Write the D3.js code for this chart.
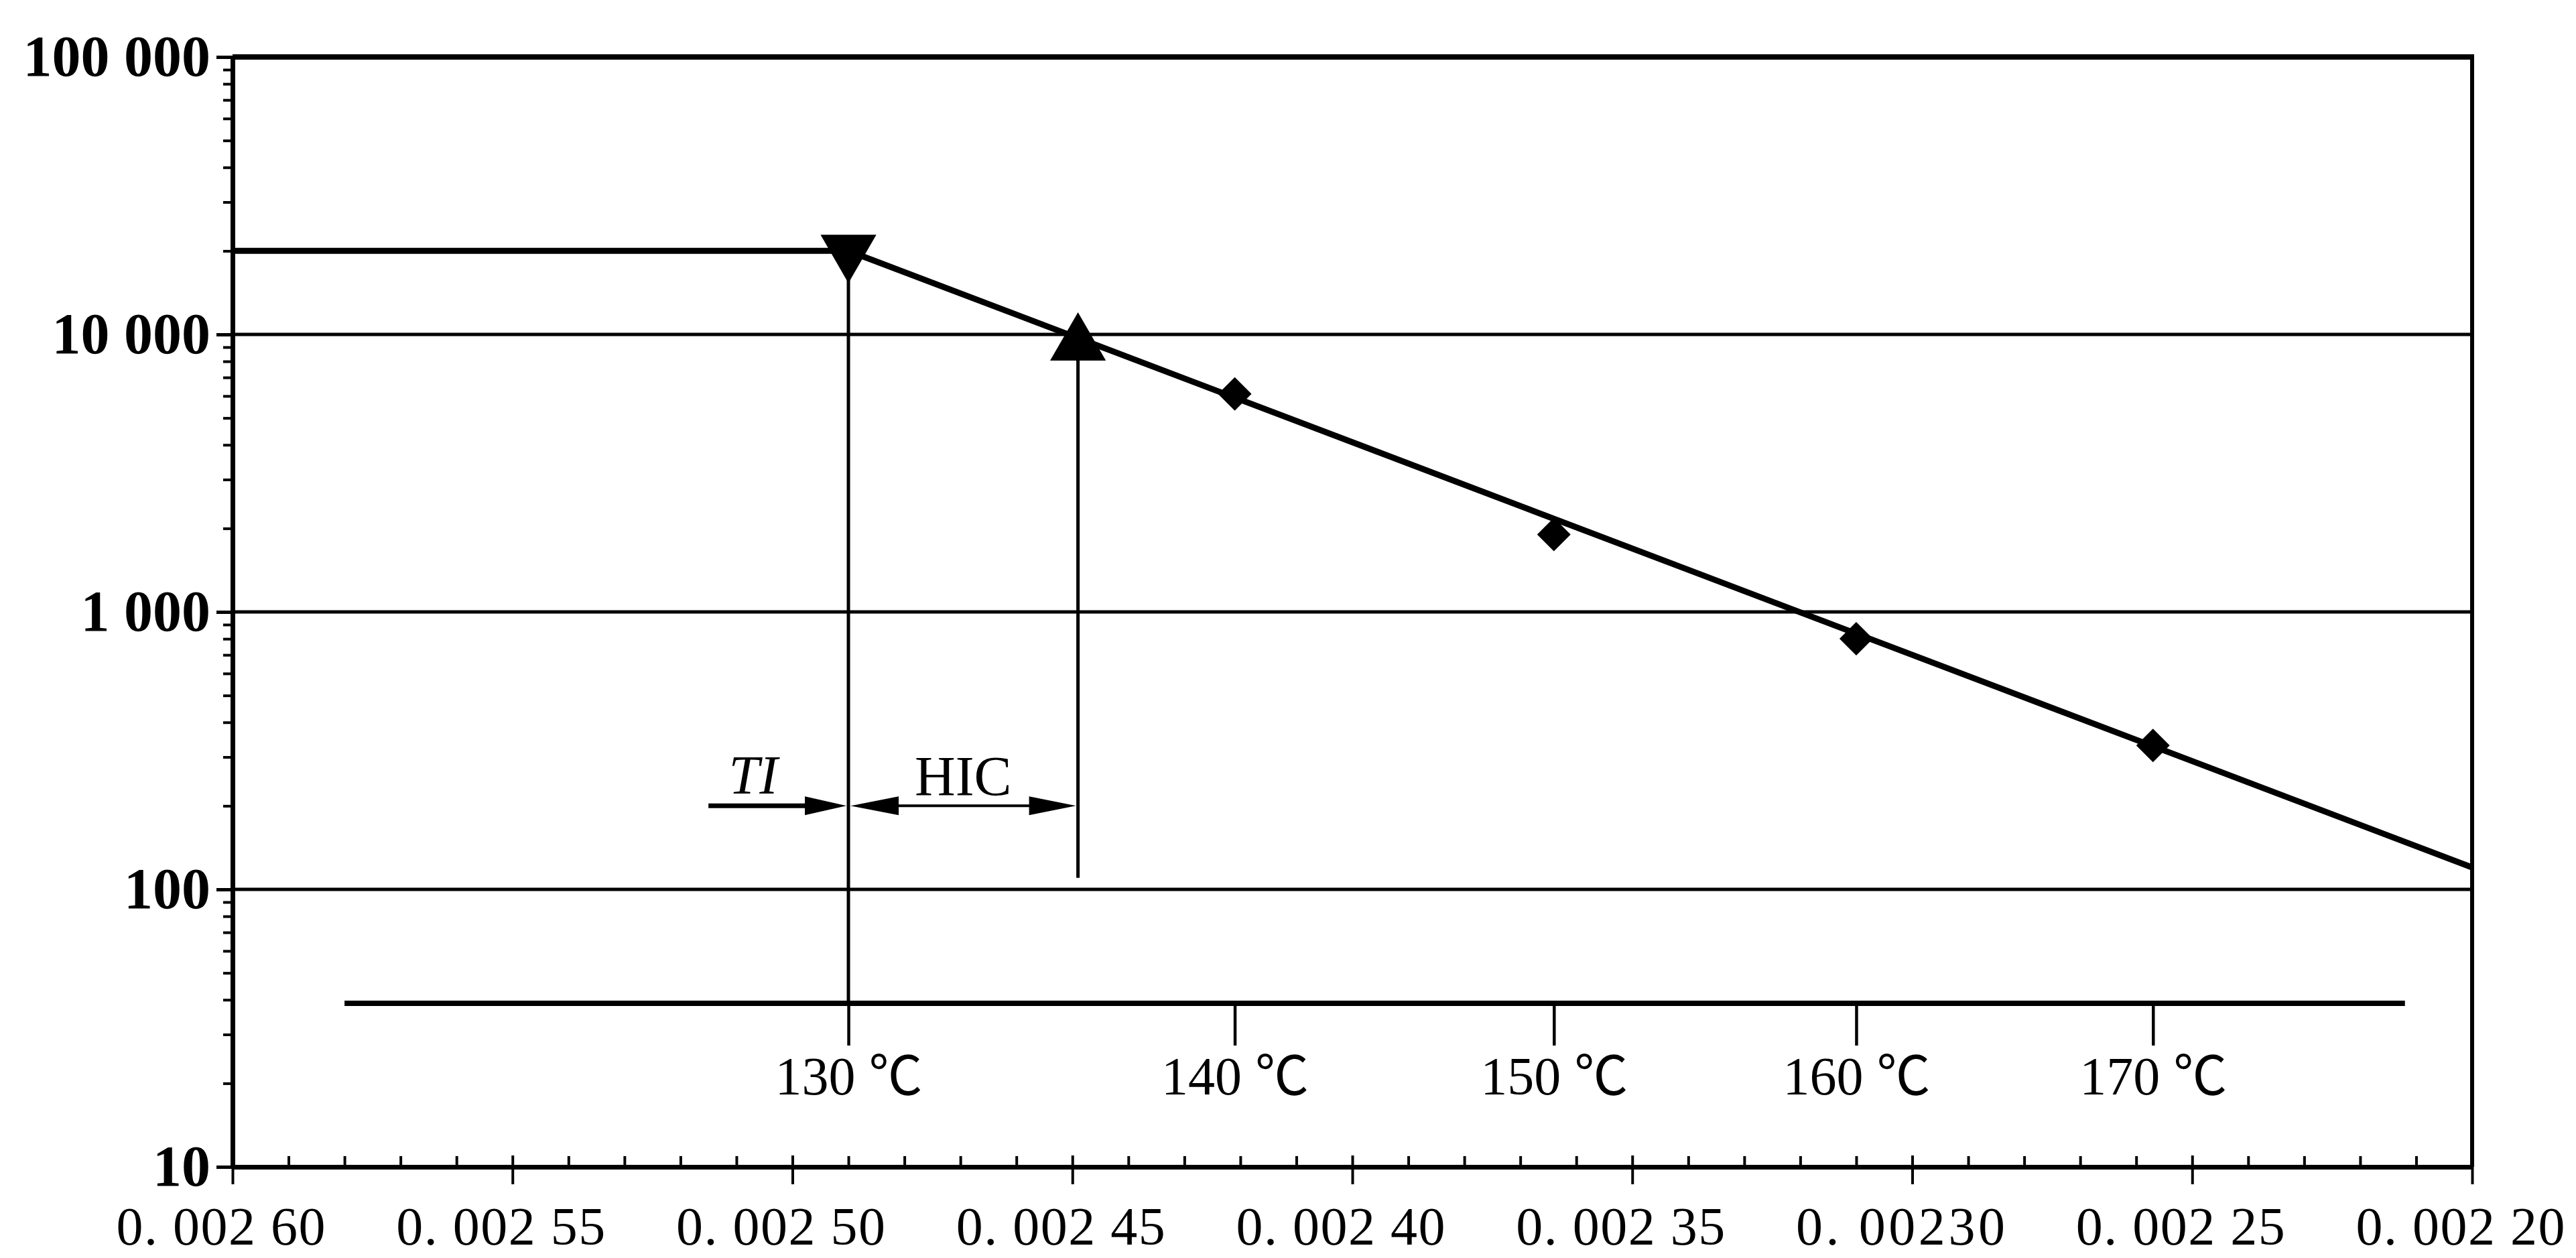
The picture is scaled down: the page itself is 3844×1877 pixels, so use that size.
<!DOCTYPE html>
<html>
<head>
<meta charset="utf-8">
<script src="https://cdn.jsdelivr.net/npm/d3@7"></script>
<style>
  html, body { margin: 0; padding: 0; background: #fff; }
  svg { display: block; }
</style>
</head>
<body>
<script>
// values
// reciprocal temperature axis (1/K)
const xTicks = [0.0026, 0.00255, 0.0025, 0.00245, 0.0024, 0.00235, 0.0023, 0.00225, 0.0022];
const xTickLabels = ['0. 002 60', '0. 002 55', '0. 002 50', '0. 002 45', '0. 002 40', '0. 002 35', '0. 00230', '0. 002 25', '0. 002 20'];

// time axis (hours, log)
const yTicks = [10, 100, 1000, 10000, 100000];
const yTickLabels = ['10', '100', '1 000', '10 000', '100 000'];

// temperature scale drawn inside the plot
const tempLabels = ['130 ℃', '140 ℃', '150 ℃', '160 ℃', '170 ℃'];
const tempRecip = [0.00249, 0.002421, 0.002364, 0.00231, 0.002257];

// ageing test points
const testRecip = [0.002421, 0.002364, 0.00231, 0.002257];
const testHours = [6100, 1900, 800, 330];

// TI (20 000 h) and HIC (half of it) points, and the fitted line
const tiPoint = [0.00249, 20000];
const hicPoint = [0.002449, 9200];
const fitRecip = [0.00249, 0.0022];
const fitHours = [20000, 120];

// set the dimensions of the SVG canvas
const width = 3844;
const height = 1877;
const plotLeft = 347;
const plotRight = 3689;
const plotTop = 85;
const plotBottom = 1741;
const tempAxisY = 1497;
const serif = '"Liberation Serif", "Times New Roman", "Noto Sans CJK SC", serif';

const svg = d3.select('body')
  .append('svg')
  .attr('width', width)
  .attr('height', height);

svg.append('rect')
  .attr('width', width)
  .attr('height', height)
  .attr('fill', '#fff');

// scales
const x = d3.scaleLinear()
  .domain([xTicks[0], xTicks[xTicks.length - 1]])
  .range([plotLeft, plotRight]);

const y = d3.scaleLog()
  .domain([yTicks[0], yTicks[yTicks.length - 1]])
  .range([plotBottom, plotTop]);

// horizontal grid lines
svg.selectAll('line.grid')
  .data(yTicks.slice(1, -1))
  .enter()
  .append('line')
  .attr('class', 'grid')
  .attr('x1', plotLeft)
  .attr('x2', plotRight)
  .attr('y1', d => y(d))
  .attr('y2', d => y(d))
  .attr('stroke', '#000')
  .attr('stroke-width', 5);

// top and right border
svg.append('line')
  .attr('x1', plotLeft).attr('x2', plotRight + 3)
  .attr('y1', y(yTicks[yTicks.length - 1])).attr('y2', y(yTicks[yTicks.length - 1]))
  .attr('stroke', '#000').attr('stroke-width', 8);

svg.append('line')
  .attr('x1', plotRight).attr('x2', plotRight)
  .attr('y1', plotTop - 4).attr('y2', plotBottom)
  .attr('stroke', '#000').attr('stroke-width', 6);

// y axis: minor ticks, then labelled decades
const yMinor = [];
yTicks.slice(0, -1).forEach(d => {
  for (let k = 2; k < 10; k++) yMinor.push(d * k);
});

svg.append('g')
  .attr('transform', `translate(${plotLeft},0)`)
  .call(d3.axisLeft(y).tickValues(yMinor).tickSize(14).tickFormat(''))
  .call(g => g.select('.domain').remove())
  .call(g => g.selectAll('line').attr('stroke-width', 4));

svg.append('g')
  .attr('transform', `translate(${plotLeft},0)`)
  .call(d3.axisLeft(y)
    .tickValues(yTicks)
    .tickSize(24)
    .tickSizeOuter(0)
    .tickPadding(9)
    .tickFormat((d, i) => yTickLabels[i]))
  .call(g => g.select('.domain').attr('stroke-width', 7))
  .call(g => g.selectAll('line').attr('stroke-width', 5))
  .call(g => g.selectAll('text')
    .attr('font-family', serif)
    .attr('font-weight', 'bold')
    .attr('font-size', 86)
    .attr('fill', '#000'));

// x axis: minor ticks inward, major ticks both sides
const xMinor = [];
for (let i = 0; i < xTicks.length - 1; i++) {
  const step = (xTicks[i + 1] - xTicks[i]) / 5;
  for (let k = 1; k < 5; k++) xMinor.push(xTicks[i] + step * k);
}

svg.append('g')
  .attr('transform', `translate(0,${plotBottom})`)
  .call(d3.axisBottom(x).tickValues(xMinor).tickSize(-16).tickFormat(''))
  .call(g => g.select('.domain').remove())
  .call(g => g.selectAll('line').attr('stroke-width', 4));

svg.append('g')
  .attr('transform', `translate(0,${plotBottom})`)
  .call(d3.axisBottom(x).tickValues(xTicks).tickSize(-17).tickFormat(''))
  .call(g => g.select('.domain').remove())
  .call(g => g.selectAll('line').attr('stroke-width', 4));

svg.append('g')
  .attr('transform', `translate(0,${plotBottom})`)
  .call(d3.axisBottom(x)
    .tickValues(xTicks)
    .tickSize(26)
    .tickSizeOuter(0)
    .tickPadding(33)
    .tickFormat((d, i) => xTickLabels[i]))
  .call(g => g.select('.domain').attr('stroke-width', 7))
  .call(g => g.selectAll('line').attr('stroke-width', 4))
  .call(g => g.selectAll('text')
    .attr('font-family', serif)
    .attr('font-size', 80)
    .attr('dx', -18)
    .attr('textLength', 312)
    .attr('lengthAdjust', 'spacing')
    .attr('fill', '#000'));

// temperature scale
svg.append('line')
  .attr('x1', x(0.00258)).attr('x2', x(0.002212))
  .attr('y1', tempAxisY).attr('y2', tempAxisY)
  .attr('stroke', '#000').attr('stroke-width', 8);

svg.append('g')
  .attr('transform', `translate(0,${tempAxisY})`)
  .call(d3.axisBottom(x)
    .tickValues(tempRecip)
    .tickSize(63)
    .tickPadding(16)
    .tickFormat((d, i) => tempLabels[i]))
  .call(g => g.select('.domain').remove())
  .call(g => g.selectAll('line').attr('stroke-width', 4.5))
  .call(g => g.selectAll('text')
    .attr('font-family', serif)
    .attr('font-size', 80)
    .attr('fill', '#000'));

// drop lines from TI and HIC points
svg.append('line')
  .attr('x1', x(tiPoint[0])).attr('x2', x(tiPoint[0]))
  .attr('y1', y(tiPoint[1])).attr('y2', tempAxisY)
  .attr('stroke', '#000').attr('stroke-width', 5);

svg.append('line')
  .attr('x1', x(hicPoint[0])).attr('x2', x(hicPoint[0]))
  .attr('y1', y(hicPoint[1])).attr('y2', y(110))
  .attr('stroke', '#000').attr('stroke-width', 5);

// 20 000 h level and fitted line
const line = d3.line()
  .x(d => x(d[0]))
  .y(d => y(d[1]));

svg.append('path')
  .attr('d', line([[xTicks[0], tiPoint[1]], tiPoint]))
  .attr('fill', 'none')
  .attr('stroke', '#000')
  .attr('stroke-width', 9);

svg.append('path')
  .attr('d', line(fitRecip.map((d, i) => [d, fitHours[i]])))
  .attr('fill', 'none')
  .attr('stroke', '#000')
  .attr('stroke-width', 9);

// test points as diamonds
svg.selectAll('path.test')
  .data(testRecip.map((d, i) => [d, testHours[i]]))
  .enter()
  .append('path')
  .attr('class', 'test')
  .attr('d', d3.symbol(d3.symbolSquare, 1250))
  .attr('transform', d => `translate(${x(d[0])},${y(d[1])}) rotate(45)`)
  .attr('fill', '#000');

// TI (down triangle) and HIC (up triangle)
svg.append('path')
  .attr('d', d3.symbol(d3.symbolTriangle, 3000))
  .attr('transform', `translate(${x(tiPoint[0])},${y(tiPoint[1])}) rotate(180)`)
  .attr('fill', '#000');

svg.append('path')
  .attr('d', d3.symbol(d3.symbolTriangle, 3000))
  .attr('transform', `translate(${x(hicPoint[0])},${y(hicPoint[1])})`)
  .attr('fill', '#000');

// TI / HIC annotation arrows
const annotY = y(200);

function arrowHead(tipX, dir, len) {
  return `M${tipX},${annotY} L${tipX - dir * len},${annotY - 14} L${tipX - dir * len},${annotY + 14} Z`;
}

svg.append('line')
  .attr('x1', x(0.002515)).attr('x2', x(tiPoint[0]) - 40)
  .attr('y1', annotY).attr('y2', annotY)
  .attr('stroke', '#000').attr('stroke-width', 7);

svg.append('line')
  .attr('x1', x(tiPoint[0]) + 40).attr('x2', x(hicPoint[0]) - 40)
  .attr('y1', annotY).attr('y2', annotY)
  .attr('stroke', '#000').attr('stroke-width', 4);

svg.append('path').attr('d', arrowHead(x(tiPoint[0]) - 3, 1, 62)).attr('fill', '#000');
svg.append('path').attr('d', arrowHead(x(tiPoint[0]) + 3, -1, 72)).attr('fill', '#000');
svg.append('path').attr('d', arrowHead(x(hicPoint[0]) - 3, 1, 70)).attr('fill', '#000');

svg.append('text')
  .attr('x', x(0.002507))
  .attr('y', annotY - 18)
  .attr('text-anchor', 'middle')
  .attr('font-family', serif)
  .attr('font-style', 'italic')
  .attr('font-size', 82)
  .text('TI');

svg.append('text')
  .attr('x', (x(tiPoint[0]) + x(hicPoint[0])) / 2)
  .attr('y', annotY - 15)
  .attr('text-anchor', 'middle')
  .attr('font-family', serif)
  .attr('font-size', 84)
  .text('HIC');
</script>
</body>
</html>
